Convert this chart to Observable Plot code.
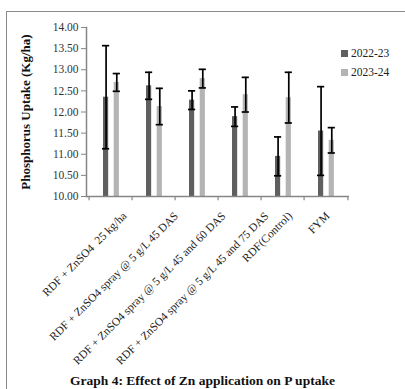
<!DOCTYPE html>
<html><head><meta charset="utf-8">
<script src="https://cdn.jsdelivr.net/npm/d3@7"></script>
<script src="https://cdn.jsdelivr.net/npm/@observablehq/plot@0.6"></script>
<style>
body{margin:0;background:#fff;font-family:"Liberation Serif","Times New Roman",serif;}
#wrap{position:relative;width:405px;height:389px;overflow:hidden;}
#frameTop{position:absolute;left:7px;top:11px;width:400px;height:0;border-top:1.5px solid #8a8a8a;}
#frameLeft{position:absolute;left:6px;top:11px;width:0;height:380px;border-left:1.5px solid #8a8a8a;}
#chart{position:absolute;left:0;top:0;}
#legend{position:absolute;left:341px;top:44px;font-size:11.5px;color:#222;line-height:19px;}
#legend span.sw{display:inline-block;width:7px;height:7px;margin-right:3px;vertical-align:0px;}
#title{position:absolute;left:0;width:405px;top:373px;text-align:center;font-weight:bold;font-size:13.5px;color:#111;}
</style></head>
<body>
<div id="wrap">
<div id="frameTop"></div><div id="frameLeft"></div>
<div id="chart"></div>
<div id="legend"></div>
<div id="title">Graph 4: Effect of Zn application on P uptake</div>
</div>
<script>
const categories = [
  "RDF + ZnSO4  25 kg/ha",
  "RDF + ZnSO4 spray @ 5 g/L 45 DAS",
  "RDF + ZnSO4 spray @ 5 g/L 45 and 60 DAS",
  "RDF + ZnSO4 spray @ 5 g/L 45 and 75 DAS",
  "RDF(Control)",
  "FYM"
];
const seasons = ["2022-23", "2023-24"];
const uptake2022 = [12.35, 12.62, 12.28, 11.89, 10.95, 11.55];
const uptake2023 = [12.70, 12.13, 12.79, 12.41, 12.34, 11.33];
const err2022 = [1.22, 0.32, 0.22, 0.23, 0.46, 1.05];
const err2023 = [0.21, 0.43, 0.22, 0.41, 0.60, 0.30];
const yTicks = [10, 10.5, 11, 11.5, 12, 12.5, 13, 13.5, 14];
const colors = ["#5f5f5f", "#b4b4b4"];

const d22 = categories.map((c, i) => ({cat: c, v: uptake2022[i], e: err2022[i]}));
const d23 = categories.map((c, i) => ({cat: c, v: uptake2023[i], e: err2023[i]}));

const W = 405, H = 372;
const mL = 86, mR = 56, mT = 27, mB = 176;
const bw = (W - mL - mR) / categories.length;
const half = bw / 2;
const c1 = 17, c2 = 27.7, barW = 6, capW = 8;
const serif = "Liberation Serif, Times New Roman, serif";
const labelSize = 11.5;

// Excel-style placement of rotated category labels: longer labels shift right
const ctx = document.createElement("canvas").getContext("2d");
ctx.font = `${labelSize}px "Liberation Serif"`;
const labelMarks = categories.map(c => {
  const w = ctx.measureText(c).width;
  return Plot.text([c], {x: d => d, frameAnchor: "bottom", textAnchor: "end", lineAnchor: "middle",
    rotate: -45, dx: 0.134 * w - 1.5, dy: 17.5, fontSize: labelSize, fill: "#222", fontFamily: serif});
});

const chart = Plot.plot({
  width: W, height: H,
  marginLeft: mL, marginRight: mR, marginTop: mT, marginBottom: mB,
  style: {fontFamily: serif, fontSize: "11px", color: "#333", background: "transparent"},
  x: {domain: categories, padding: 0, axis: null},
  y: {domain: [10, 14]},
  marks: [
    Plot.barY(d22, {x: "cat", y1: 10, y2: "v", fill: colors[0], insetLeft: c1 - barW/2, insetRight: bw - c1 - barW/2}),
    Plot.barY(d23, {x: "cat", y1: 10, y2: "v", fill: colors[1], insetLeft: c2 - barW/2, insetRight: bw - c2 - barW/2}),
    Plot.ruleX(d22, {x: "cat", y1: d => d.v - d.e, y2: d => d.v + d.e, dx: c1 - half, stroke: "#000", strokeWidth: 1.7}),
    Plot.ruleX(d23, {x: "cat", y1: d => d.v - d.e, y2: d => d.v + d.e, dx: c2 - half, stroke: "#000", strokeWidth: 1.7}),
    Plot.tickY(d22, {x: "cat", y: d => d.v + d.e, insetLeft: c1 - capW/2, insetRight: bw - c1 - capW/2, stroke: "#000", strokeWidth: 1.7}),
    Plot.tickY(d22, {x: "cat", y: d => d.v - d.e, insetLeft: c1 - capW/2, insetRight: bw - c1 - capW/2, stroke: "#000", strokeWidth: 1.7}),
    Plot.tickY(d23, {x: "cat", y: d => d.v + d.e, insetLeft: c2 - capW/2, insetRight: bw - c2 - capW/2, stroke: "#000", strokeWidth: 1.7}),
    Plot.tickY(d23, {x: "cat", y: d => d.v - d.e, insetLeft: c2 - capW/2, insetRight: bw - c2 - capW/2, stroke: "#000", strokeWidth: 1.7}),
    Plot.ruleY([10], {stroke: "#868686", strokeWidth: 1.5}),
    Plot.frame({anchor: "left", stroke: "#868686", strokeWidth: 1.5}),
    Plot.ruleX(categories, {x: d => d, dx: -half, y1: 10, y2: 9.9, stroke: "#868686", strokeWidth: 1.2}),
    Plot.ruleX(categories.slice(-1), {x: d => d, dx: half, y1: 10, y2: 9.9, stroke: "#868686", strokeWidth: 1.2}),
    Plot.axisY({ticks: yTicks, tickFormat: d => d.toFixed(2), tickSize: 5, tickPadding: 3, stroke: "#868686", label: null, fontSize: 11.5, fontFamily: serif}),
    ...labelMarks,
    Plot.text(["Phosphorus Uptake (Kg/ha)"], {frameAnchor: "left", textAnchor: "middle", dx: -61, rotate: -90, fontWeight: "bold", fontSize: 13, fill: "#111", fontFamily: serif})
  ]
});
document.getElementById("chart").append(chart);

const leg = document.getElementById("legend");
seasons.forEach((s, i) => {
  const row = document.createElement("div");
  row.innerHTML = `<span class="sw" style="background:${colors[i]}"></span>${s}`;
  leg.append(row);
});
</script>
</body></html>
